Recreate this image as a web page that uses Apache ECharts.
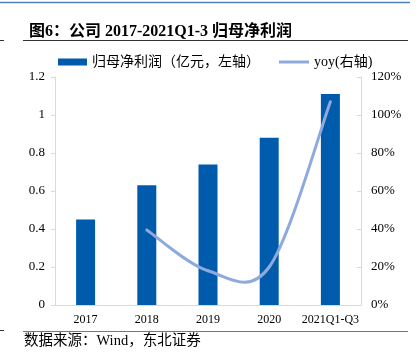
<!DOCTYPE html>
<html><head><meta charset="utf-8">
<script src="https://cdn.jsdelivr.net/npm/echarts@6/dist/echarts.min.js"></script>
<style>html,body{margin:0;padding:0;background:#fff}#c{width:416px;height:356px}</style>
</head><body><div id="c"></div>
<script>
const categories = ['2017', '2018', '2019', '2020', '2021Q1-Q3'];
const profit = [0.45, 0.63, 0.74, 0.88, 1.11];
const yoy = [null, 39.5, 18, 20, 107];
const leftTicks = [0, 0.2, 0.4, 0.6, 0.8, 1, 1.2];
const rightTicks = [0, 20, 40, 60, 80, 100, 120];
const titleText = '图6：公司 2017-2021Q1-3 归母净利润';
const sourceText = '数据来源：Wind，东北证券';
const barName = '归母净利润（亿元，左轴）';
const lineName = 'yoy(右轴)';

const FONT = '"Liberation Serif", "Noto Sans CJK SC", serif';
const BAR = '#005BAC', LINE = '#8EAADC';
const lineData = yoy.map((v, i) => [i, v]).filter(d => d[1] != null);

// Excel-style smoothed line: Bezier through the data points (positions from api.coord)
function renderSmooth(params, api) {
  if (params.dataIndex !== 0) return null;
  const p = lineData.map(d => api.coord(d));
  const n = p.length, children = [];
  for (let i = 0; i < n - 1; i++) {
    const a = p[Math.max(i - 1, 0)], b = p[i], c = p[i + 1], d = p[Math.min(i + 2, n - 1)];
    children.push({
      type: 'bezierCurve',
      shape: {
        x1: b[0], y1: b[1], x2: c[0], y2: c[1],
        cpx1: b[0] + (c[0] - a[0]) / 6, cpy1: b[1] + (c[1] - a[1]) / 6,
        cpx2: c[0] - (d[0] - b[0]) / 6, cpy2: c[1] - (d[1] - b[1]) / 6
      },
      style: {stroke: LINE, lineWidth: 3, fill: null, lineCap: 'round'}
    });
  }
  return {type: 'group', children};
}

const chart = echarts.init(document.getElementById('c'), null, {renderer: 'canvas'});
chart.setOption({
  animation: false,
  backgroundColor: '#fff',
  textStyle: {fontFamily: FONT, color: '#000'},
  title: {
    text: titleText, left: 24, top: 19,
    textStyle: {fontFamily: FONT, fontSize: 16, fontWeight: 'bold', color: '#000'}
  },
  legend: [{
    left: 53, top: 50, itemWidth: 29, itemHeight: 7, itemGap: 4,
    textStyle: {fontFamily: FONT, fontSize: 14, color: '#000'},
    data: [{name: barName, icon: 'rect'}]
  }, {
    left: 274, top: 50, itemWidth: 30, itemHeight: 3, itemGap: 4,
    textStyle: {fontFamily: FONT, fontSize: 14, color: '#000'},
    data: [{name: lineName, icon: 'rect', itemStyle: {color: LINE}}]
  }],
  grid: {left: 55, right: 55, top: 77, bottom: 51, containLabel: false},
  xAxis: {
    type: 'category', data: categories,
    axisLine: {lineStyle: {color: '#D9D9D9'}},
    axisTick: {show: false},
    axisLabel: {interval: 0, fontFamily: FONT, fontSize: 12, color: '#000', margin: 9}
  },
  yAxis: [{
    type: 'value', min: 0, max: 1.2, interval: 0.2,
    splitLine: {show: false},
    axisLine: {show: true, lineStyle: {color: '#D9D9D9'}},
    axisTick: {show: true, length: 4, lineStyle: {color: '#D9D9D9'}},
    axisLabel: {fontFamily: FONT, fontSize: 13, color: '#000', margin: 10,
      formatter: v => leftTicks.includes(Math.round(v*10)/10) ? String(Math.round(v*10)/10) : ''}
  }, {
    type: 'value', min: 0, max: 120, interval: 20,
    splitLine: {show: false},
    axisLine: {show: true, lineStyle: {color: '#D9D9D9'}},
    axisTick: {show: true, inside: true, length: 4, lineStyle: {color: '#D9D9D9'}},
    axisLabel: {fontFamily: FONT, fontSize: 13, color: '#000', margin: 10,
      formatter: v => rightTicks.includes(v) ? v + '%' : ''}
  }],
  series: [{
    name: barName, type: 'bar', data: profit, barWidth: 19,
    itemStyle: {color: BAR}
  }, {
    name: lineName, type: 'custom', yAxisIndex: 1, data: lineData,
    encode: {x: 0, y: 1}, renderItem: renderSmooth,
    itemStyle: {color: LINE}, z: 3
  }],
  graphic: [
    {type: 'line', shape: {x1: 0, y1: 2.5, x2: 410, y2: 2.5}, style: {stroke: '#4F81BD', lineWidth: 1.5}},
    {type: 'line', shape: {x1: 23, y1: 40.5, x2: 408, y2: 40.5}, style: {stroke: '#333', lineWidth: 1.2}},
    {type: 'line', shape: {x1: 0, y1: 40.5, x2: 4, y2: 40.5}, style: {stroke: '#333', lineWidth: 1}},
    {type: 'line', shape: {x1: 23, y1: 331.5, x2: 408, y2: 331.5}, style: {stroke: '#777', lineWidth: 1}},
    {type: 'line', shape: {x1: 0, y1: 330.5, x2: 4, y2: 330.5}, style: {stroke: '#333', lineWidth: 1}},
    {type: 'text', left: 24, top: 334, style: {text: sourceText, font: '14.5px ' + FONT, fill: '#000'}}
  ]
});
</script></body></html>
